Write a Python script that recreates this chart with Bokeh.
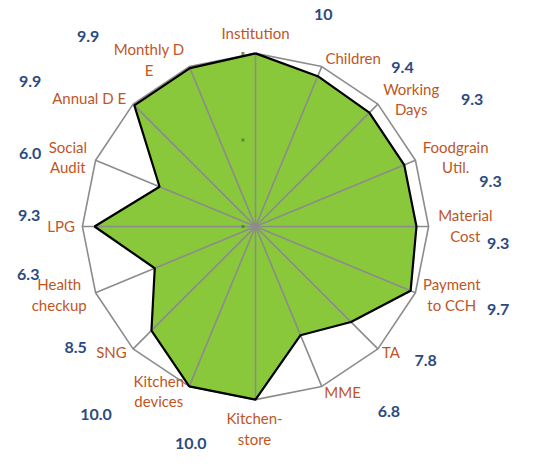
import math
from bokeh.plotting import figure
from bokeh.models import Range1d
from bokeh.core.properties import value
from bokeh.embed import file_html
from bokeh.resources import INLINE

# ---------------- data ----------------
categories = ["Institution", "Children", "Working\nDays", "Foodgrain\nUtil.",
              "Material\nCost", "Payment\nto CCH", "TA", "MME", "Kitchen-\nstore",
              "Kitchen\ndevices", "SNG", "Health\ncheckup", "LPG", "Social\nAudit",
              "Annual D E", "Monthly D\nE"]
scores = [10.0, 9.4, 9.3, 9.3, 9.3, 9.7, 7.8, 6.8, 10.0, 10.0, 8.5, 6.3, 9.3, 6.0, 9.9, 9.9]
score_labels = ["10", "9.4", "9.3", "9.3", "9.3", "9.7", "7.8", "6.8", "10.0", "10.0",
                "8.5", "6.3", "9.3", "6.0", "9.9", "9.9"]
axis_max = 10.0
axis_ticks = [0, 5, 10]

# ---------------- layout (pixels, relative to chart centre; y downwards) ----------------
W, H = 522, 452
K = 0.967                  # overall layout scale so the chart fits the page
CX, CY = 255, 226          # chart centre in plot pixels
R_PX = 179 * K             # pixel radius of the axis maximum
cat_label_offsets = [(0, -200), (101, -174), (161, -132), (207, -72), (217, -1), (203, 70),
                     (140, 130), (90, 171), (-1, 209), (-100, 170), (-149, 130), (-203, 70),
                     (-201, -1), (-194, -72), (-172, -133), (-110, -173)]
val_label_offsets = [(70, -219), (152, -164), (224, -131), (243, -47), (251, 18), (251, 86),
                     (176, 139), (138, 191), (-67, 224), (-165, 194), (-186, 125), (-235, 50),
                     (-234, -11), (-233, -76), (-233, -150), (-173, -197)]
tick_offset_px = -13

s = R_PX / axis_max  # px per data unit
p = figure(width=W, height=H, output_backend="svg", toolbar_location=None,
           x_range=Range1d(-CX / s, (W - CX) / s), y_range=Range1d(-(H - CY) / s, CY / s),
           min_border=0)
p.axis.visible = False
p.grid.visible = False
p.outline_line_color = None
p.background_fill_color = "white"
p.border_fill_color = "white"

n = len(categories)
angles = [math.pi / 2 - i * 2 * math.pi / n for i in range(n)]

xs = [v * math.cos(a) for v, a in zip(scores, angles)]
ys = [v * math.sin(a) for v, a in zip(scores, angles)]

# filled area
p.patch(xs, ys, fill_color="#88C83A", line_color=None)

# spokes
p.multi_line([[0, axis_max * math.cos(a)] for a in angles],
             [[0, axis_max * math.sin(a)] for a in angles],
             line_color="#8C8C8C", line_width=1.6)
# outer ring
ring_x = [axis_max * math.cos(a) for a in angles] + [axis_max * math.cos(angles[0])]
ring_y = [axis_max * math.sin(a) for a in angles] + [axis_max * math.sin(angles[0])]
p.line(ring_x, ring_y, line_color="#8C8C8C", line_width=1.6)

# data outline
p.line(xs + [xs[0]], ys + [ys[0]], line_color="black", line_width=2.2)

# centre blob and tiny axis tick marks
p.scatter([0], [0], size=7, fill_color="#8C8C8C", line_color=None)
p.scatter([tick_offset_px * K / s] * len(axis_ticks), axis_ticks, size=3, marker="square",
          fill_color="#4E7A2C", line_color=None, fill_alpha=0.8)

# category labels
p.text([dx * K / s for dx, dy in cat_label_offsets], [-dy * K / s for dx, dy in cat_label_offsets],
       text=categories, text_align="center", text_baseline="middle",
       text_font=value("Lato"), text_font_size="15px", text_color="#C0561F",
       text_line_height=1.15)

# value labels
p.text([dx * K / s for dx, dy in val_label_offsets], [-dy * K / s for dx, dy in val_label_offsets],
       text=score_labels, text_align="center", text_baseline="middle",
       text_font=value("Lato"), text_font_size="16px", text_font_style="bold",
       text_color="#2B4A80")

open("out.html", "w").write(file_html(p, INLINE))
